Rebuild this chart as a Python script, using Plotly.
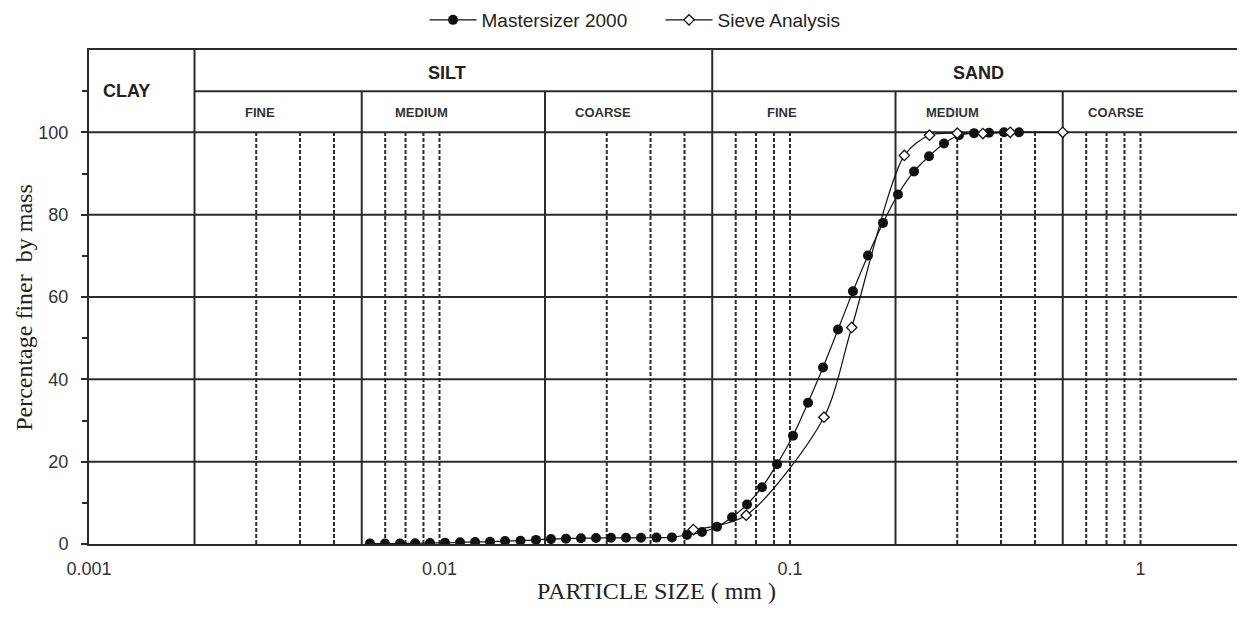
import math
import plotly.graph_objects as go

# ---------------- data ----------------
ms_size = [0.006333, 0.006990, 0.007716, 0.008516, 0.009395, 0.010368, 0.011444, 0.012633,
           0.013938, 0.015381, 0.017025, 0.018847, 0.020801, 0.022956, 0.025330, 0.027958,
           0.030850, 0.034050, 0.037570, 0.041591, 0.046037, 0.050816, 0.056090, 0.061890,
           0.068330, 0.075400, 0.083200, 0.091820, 0.10200, 0.11257, 0.12423, 0.13709,
           0.15124, 0.16691, 0.18420, 0.20327, 0.22584, 0.24923, 0.27504, 0.30350,
           0.33497, 0.36966, 0.40795, 0.45018]
ms_finer = [0.1, 0.1, 0.15, 0.2, 0.25, 0.3, 0.4, 0.5,
            0.55, 0.7, 0.8, 1.0, 1.2, 1.3, 1.4, 1.45,
            1.5, 1.5, 1.5, 1.55, 1.6, 2.2, 2.9, 4.2,
            6.5, 9.6, 13.8, 19.4, 26.3, 34.3, 42.9, 52.1,
            61.4, 70.1, 78.0, 84.9, 90.5, 94.2, 97.3, 99.3,
            99.8, 99.9, 100.0, 100.0]

sv_size = [0.053, 0.075, 0.125, 0.15, 0.212, 0.25, 0.3, 0.355, 0.425, 0.6]
sv_finer = [3.5, 7.0, 30.8, 52.6, 94.4, 99.3, 99.8, 99.7, 100.0, 100.0]

# soil-class boundaries (mm)
main_bounds = [0.002, 0.06]
sub_bounds = [0.006, 0.02, 0.2, 0.6]
dashed_sizes = [0.003, 0.004, 0.005, 0.007, 0.008, 0.009, 0.01, 0.03, 0.04, 0.05,
                0.07, 0.08, 0.09, 0.1, 0.3, 0.4, 0.5, 0.7, 0.8, 0.9, 1.0]

main_labels = ["CLAY", "SILT", "SAND"]
main_label_x = [0.001277, 0.01050, 0.3439]
main_label_y = [110, 114.3, 114.3]
sub_labels = ["FINE", "MEDIUM", "COARSE", "FINE", "MEDIUM", "COARSE"]
sub_label_x = [0.003076, 0.008856, 0.02927, 0.09519, 0.2917, 0.8513]

y_ticks = [0, 20, 40, 60, 80, 100]
y_minor = [10, 30, 50, 70, 90, 110]
x_ticks = [0.001, 0.01, 0.1, 1]
x_ticklabels = ["0.001", "0.01", "0.1", "1"]

X_MIN_LOG, X_MAX_LOG = -3.0, 0.2953
x_left = 10 ** X_MIN_LOG
x_right = 10 ** X_MAX_LOG

GRID = "#2b2b2b"
fig = go.Figure()

def vline(x, top, dash=None, width=2.0):
    fig.add_trace(go.Scatter(x=[x, x], y=[0, top], mode="lines", hoverinfo="skip",
                             showlegend=False,
                             line=dict(color=GRID, width=width, dash=dash)))

def hline(x0, x1, y, width=2.0):
    fig.add_trace(go.Scatter(x=[x0, x1], y=[y, y], mode="lines", hoverinfo="skip",
                             showlegend=False, line=dict(color=GRID, width=width)))

for v in dashed_sizes:
    vline(v, 100, dash="4px,2px", width=2.0)
for yv in y_ticks[1:]:
    hline(x_left, x_right, yv)
hline(main_bounds[0], x_right, 110)
for v in sub_bounds:
    vline(v, 110)
for v in main_bounds:
    vline(v, 120)

fig.add_trace(go.Scatter(
    x=ms_size, y=ms_finer, mode="lines+markers", name="Mastersizer 2000",
    line=dict(color="#111", width=1.2, shape="spline", smoothing=0.6),
    marker=dict(symbol="circle", size=10, color="#111", line=dict(color="#111", width=0))))
fig.add_trace(go.Scatter(
    x=sv_size, y=sv_finer, mode="lines+markers", name="Sieve Analysis",
    line=dict(color="#111", width=1.2, shape="spline", smoothing=0.8),
    marker=dict(symbol="diamond", size=8, color="white", line=dict(color="#111", width=1.3))))

annotations = []
for t, xv, yv in zip(main_labels, main_label_x, main_label_y):
    annotations.append(dict(x=math.log10(xv), y=yv, xref="x", yref="y", text="<b>%s</b>" % t,
                            showarrow=False, xanchor="center", yanchor="middle",
                            font=dict(family="Liberation Sans, Arial", size=18, color="#222")))
for t, xv in zip(sub_labels, sub_label_x):
    annotations.append(dict(x=math.log10(xv), y=104.9, xref="x", yref="y", text="<b>%s</b>" % t,
                            showarrow=False, xanchor="center", yanchor="middle",
                            font=dict(family="Liberation Sans, Arial", size=13, color="#333")))
annotations.append(dict(x=0.491, y=-0.095, xref="paper", yref="paper",
                        text="PARTICLE SIZE ( mm )", showarrow=False,
                        xanchor="center", yanchor="middle",
                        font=dict(family="Liberation Serif, Times New Roman", size=24, color="#222")))
annotations.append(dict(x=-0.0563, y=0.48, xref="paper", yref="paper",
                        text="Percentage finer  by mass", showarrow=False, textangle=-90,
                        xanchor="center", yanchor="middle",
                        font=dict(family="Liberation Serif, Times New Roman", size=24, color="#222")))

# the page body has an 8px margin, so the figure is sized to fit the window
fig.update_layout(
    width=1237, height=601,
    margin=dict(l=81, r=1, t=42, b=65, autoexpand=False),
    paper_bgcolor="white", plot_bgcolor="white",
    font=dict(family="Liberation Sans, Arial", size=18, color="#222"),
    showlegend=True,
    legend=dict(orientation="h", xref="container", yref="container",
                x=0.5275, y=0.980, xanchor="center", yanchor="middle",
                itemwidth=47, entrywidth=174,
                font=dict(size=19, color="#222"), bgcolor="rgba(0,0,0,0)"),
    annotations=annotations,
    xaxis=dict(type="log", range=[X_MIN_LOG, X_MAX_LOG], showgrid=False, zeroline=False,
               automargin=False,
               showline=True, linecolor=GRID, linewidth=2, mirror=True,
               tickvals=x_ticks, ticktext=x_ticklabels, ticks="", ticklabelstandoff=7,
               tickfont=dict(size=18, color="#333")),
    yaxis=dict(range=[0, 120], showgrid=False, zeroline=False, automargin=False,
               showline=True, linecolor=GRID, linewidth=2, mirror=True,
               tickvals=y_ticks, ticks="outside", ticklen=6, tickwidth=1.5, tickcolor=GRID,
               ticklabelstandoff=9,
               minor=dict(tickvals=y_minor, ticks="outside", ticklen=5, tickwidth=1.5,
                          tickcolor=GRID),
               tickfont=dict(size=18, color="#333")),
)

fig.write_html("out.html")
